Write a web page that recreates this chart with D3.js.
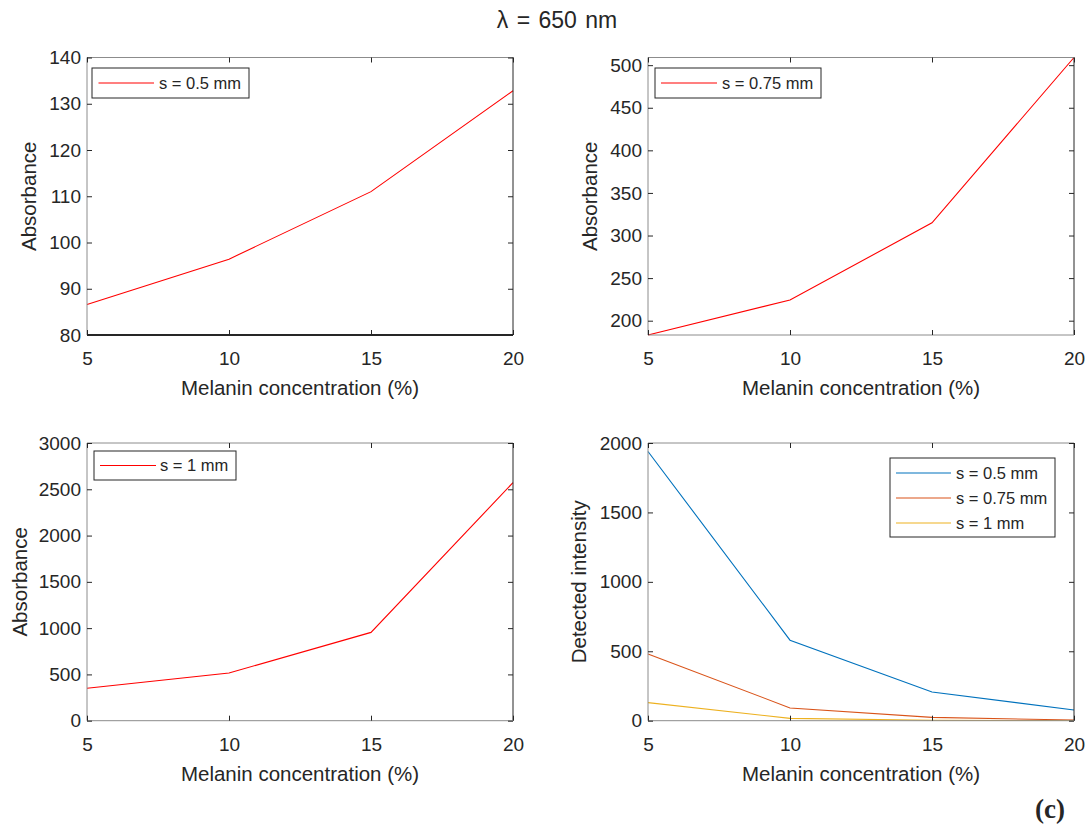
<!DOCTYPE html>
<html>
<head>
<meta charset="utf-8">
<script src="https://cdn.jsdelivr.net/npm/d3@7"></script>
<style>
  html, body { margin: 0; padding: 0; background: #fff; }
  svg { display: block; }
  text { font-family: "Liberation Sans", Arial, Helvetica, sans-serif; fill: #262626; }
</style>
</head>
<body>
<svg id="chart" width="1087" height="828"></svg>
<script>
// ---- data ----
const melanin = [5, 10, 15, 20];
const absorbance05 = [86.6, 96.4, 111.0, 132.8];
const absorbance075 = [183.2, 224.3, 314.9, 509.0];
const absorbance1 = [350, 515, 954, 2572];
const intensity05 = [1939, 580, 207, 77];
const intensity075 = [481, 92, 24, 5];
const intensity1 = [130, 17, 3, 1];

const xTicks = [5, 10, 15, 20];
const yTicksA05 = [80, 90, 100, 110, 120, 130, 140];
const yTicksA075 = [200, 250, 300, 350, 400, 450, 500];
const yTicksA1 = [0, 500, 1000, 1500, 2000, 2500, 3000];
const yTicksI = [0, 500, 1000, 1500, 2000];

const legendNames = ["s = 0.5 mm", "s = 0.75 mm", "s = 1 mm"];
const titleText = "\u03bb = 650 nm";
const xLabel = "Melanin concentration (%)";

// ---- layout ----
const svg = d3.select("#chart");
const colors = { red: "#ff0000", blue: "#0072bd", orange: "#d95319", yellow: "#edb120" };

const panels = [
  { x0: 87, x1: 513, y0: 57.5, y1: 335, ydom: [80, 140], yticks: yTicksA05,
    series: [{ v: absorbance05, c: colors.red, n: legendNames[0] }],
    ylabel: "Absorbance", ylabelX: 36, darkBottom: true,
    legend: { x: 92, y: 68, w: 157, h: 30, lineX0: 98.5, lineX1: 154, textX: 159 } },
  { x0: 648, x1: 1074, y0: 57.5, y1: 335, ydom: d3.extent(absorbance075), yticks: yTicksA075,
    series: [{ v: absorbance075, c: colors.red, n: legendNames[1] }],
    ylabel: "Absorbance", ylabelX: 597,
    legend: { x: 655, y: 68, w: 166, h: 30, lineX0: 661, lineX1: 717, textX: 722 } },
  { x0: 87, x1: 513, y0: 443, y1: 720.7, ydom: [0, 3000], yticks: yTicksA1,
    series: [{ v: absorbance1, c: colors.red, n: legendNames[2] }],
    ylabel: "Absorbance", ylabelX: 27,
    legend: { x: 94, y: 451, w: 142, h: 29, lineX0: 100, lineX1: 156, textX: 160 } },
  { x0: 648, x1: 1074, y0: 443, y1: 720.7, ydom: [0, 2000], yticks: yTicksI,
    series: [
      { v: intensity05, c: colors.blue, n: legendNames[0] },
      { v: intensity075, c: colors.orange, n: legendNames[1] },
      { v: intensity1, c: colors.yellow, n: legendNames[2] }
    ],
    ylabel: "Detected intensity", ylabelX: 586,
    legend: { x: 890, y: 458, w: 165, h: 79, lineX0: 896, lineX1: 951, textX: 956, rowH: 25 } }
];

panels.forEach(p => {
  const x = d3.scaleLinear().domain([5, 20]).range([p.x0, p.x1]);
  const y = d3.scaleLinear().domain(p.ydom).range([p.y1, p.y0]);
  const g = svg.append("g");

  // data lines
  const line = d3.line().x((d, i) => x(melanin[i])).y(d => y(d));
  p.series.forEach(s => {
    g.append("path").datum(s.v).attr("d", line)
      .attr("fill", "none").attr("stroke", s.c).attr("stroke-width", 1.1);
  });

  // box
  const gray = "#8c8c8c", dark = "#262626";
  g.append("line").attr("x1", p.x0).attr("x2", p.x1).attr("y1", p.y0).attr("y2", p.y0).attr("stroke", gray);
  g.append("line").attr("x1", p.x0).attr("x2", p.x0).attr("y1", p.y0).attr("y2", p.y1).attr("stroke", gray);
  g.append("line").attr("x1", p.x1).attr("x2", p.x1).attr("y1", p.y0).attr("y2", p.y1).attr("stroke", dark);
  g.append("line").attr("x1", p.x0).attr("x2", p.x1).attr("y1", p.y1).attr("y2", p.y1)
    .attr("stroke", p.darkBottom ? dark : gray).attr("stroke-width", p.darkBottom ? 2 : 1);

  // axes with inward ticks
  const tl = 5;
  const xb = g.append("g").attr("transform", `translate(0,${p.y1})`)
    .call(d3.axisBottom(x).tickValues(xTicks).tickSize(-tl).tickPadding(0).tickFormat(d3.format("d")));
  xb.select(".domain").remove();
  xb.selectAll(".tick line").attr("stroke", dark);
  xb.selectAll(".tick text").attr("y", 30).attr("dy", null).style("font-size", "19px")
    .style("font-family", "Liberation Sans, Arial, sans-serif").attr("fill", dark);

  const xt = g.append("g").attr("transform", `translate(0,${p.y0})`)
    .call(d3.axisTop(x).tickValues(xTicks).tickSize(-tl).tickFormat(""));
  xt.select(".domain").remove();
  xt.selectAll(".tick line").attr("stroke", dark);

  const yl = g.append("g").attr("transform", `translate(${p.x0},0)`)
    .call(d3.axisLeft(y).tickValues(p.yticks).tickSize(-tl).tickPadding(10).tickFormat(d3.format("d")));
  yl.select(".domain").remove();
  yl.selectAll(".tick line").attr("stroke", dark);
  yl.selectAll(".tick text").attr("x", -6).style("font-size", "19px")
    .style("font-family", "Liberation Sans, Arial, sans-serif").attr("fill", dark);

  const yr = g.append("g").attr("transform", `translate(${p.x1},0)`)
    .call(d3.axisRight(y).tickValues(p.yticks).tickSize(-tl).tickFormat(""));
  yr.select(".domain").remove();
  yr.selectAll(".tick line").attr("stroke", dark);

  // labels
  g.append("text").attr("x", (p.x0 + p.x1) / 2).attr("y", p.y1 + 60)
    .attr("text-anchor", "middle").style("font-size", "20.5px").text(xLabel);
  g.append("text").attr("transform", `translate(${p.ylabelX},${(p.y0 + p.y1) / 2}) rotate(-90)`)
    .attr("text-anchor", "middle").style("font-size", "20.5px").text(p.ylabel);

  // legend
  const L = p.legend;
  const lg = g.append("g");
  lg.append("rect").attr("x", L.x).attr("y", L.y).attr("width", L.w).attr("height", L.h)
    .attr("fill", "#fff").attr("stroke", dark).attr("stroke-width", 1);
  const rowH = L.rowH || 0;
  const firstY = p.series.length > 1 ? L.y + 15 : L.y + L.h / 2;
  p.series.forEach((s, i) => {
    const ry = firstY + i * rowH;
    lg.append("line").attr("x1", L.lineX0).attr("x2", L.lineX1).attr("y1", ry).attr("y2", ry)
      .attr("stroke", s.c).attr("stroke-width", 1.1);
    lg.append("text").attr("x", L.textX).attr("y", ry).attr("dy", "0.35em")
      .style("font-size", "16.5px").attr("fill", "#000").text(s.n);
  });
});

// title
svg.append("text").attr("x", 557).attr("y", 28).attr("text-anchor", "middle")
  .style("font-size", "23px").attr("fill", "#000").attr("word-spacing", "2px").text(titleText);

// panel tag
svg.append("text").attr("x", 1050).attr("y", 818).attr("text-anchor", "middle")
  .style("font-family", "Liberation Serif, Times New Roman, serif").style("font-weight", "bold")
  .style("font-size", "27px").attr("fill", "#000").text("(c)");
</script>
</body>
</html>
